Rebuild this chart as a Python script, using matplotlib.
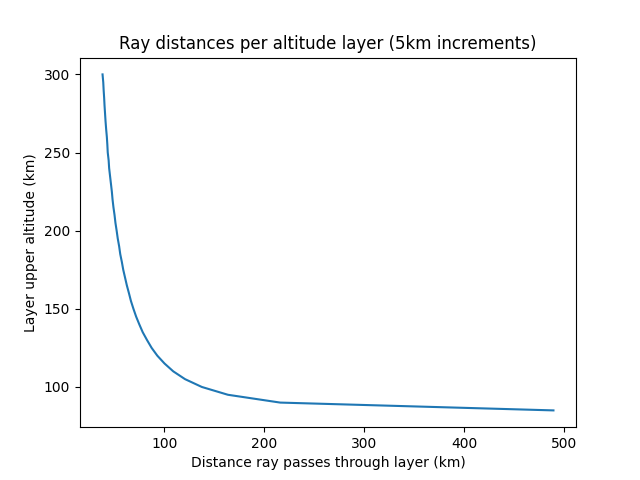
import matplotlib
matplotlib.use('Agg')
import matplotlib.pyplot as plt

# layer upper altitudes (km), 5 km steps
altitude = [85, 90, 95, 100, 105, 110, 115, 120, 125, 130, 135, 140, 145,
            150, 155, 160, 165, 170, 175, 180, 185, 190, 195, 200, 205, 210,
            215, 220, 225, 230, 235, 240, 245, 250, 255, 260, 265, 270, 275,
            280, 285, 290, 295, 300]

# distance the ray travels inside each layer (km)
distance = [489.4, 216.1, 163.8, 137.7, 120.9, 109.1, 100.4, 93.2, 87.5,
            82.9, 78.6, 75.2, 72.0, 69.3, 66.8, 64.8, 62.7, 60.9, 59.1, 57.7,
            56.1, 55.0, 53.6, 52.5, 51.3, 50.4, 49.3, 48.4, 47.7, 46.8, 45.9,
            45.0, 44.5, 43.6, 43.2, 42.7, 42.0, 41.4, 40.9, 40.4, 40.0, 39.5,
            39.1, 38.4]

fig, ax = plt.subplots(figsize=(6.4, 4.8), dpi=100)
ax.plot(distance, altitude)
ax.set_title('Ray distances per altitude layer (5km increments)')
ax.set_xlabel('Distance ray passes through layer (km)')
ax.set_ylabel('Layer upper altitude (km)')

fig.savefig('out.png')
